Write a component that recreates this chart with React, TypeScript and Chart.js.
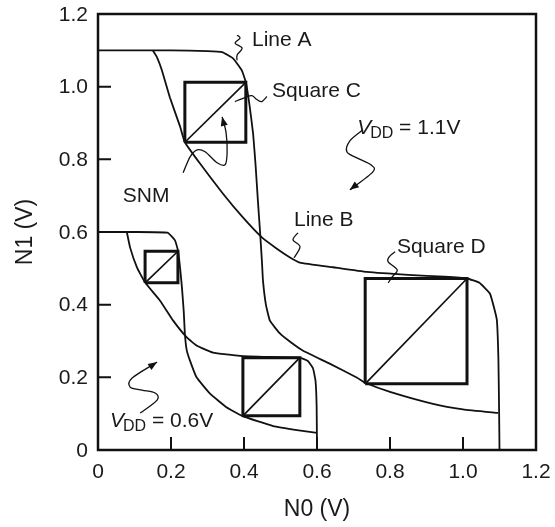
import { useEffect, useRef } from "react";
import { Chart, registerables } from "chart.js";

Chart.register(...registerables);

const FONT = '"Liberation Sans", Arial, Helvetica, sans-serif';
const INK = "#111111";

// Shared axis ticks (volts)
const axisTicks = [0, 0.2, 0.4, 0.6, 0.8, 1.0, 1.2];
const innerTicks = [0.2, 0.4, 0.6, 0.8, 1.0];

// VDD = 1.1 V butterfly — Line A (N1 vs N0)
const lineA11X = [0, 0.1, 0.2, 0.3, 0.34, 0.37, 0.394, 0.405, 0.415, 0.425, 0.432, 0.438, 0.444, 0.449, 0.452, 0.46, 0.471, 0.499, 0.53, 0.562, 0.636, 0.71, 0.732, 0.8, 0.918, 1.0, 1.096];
const lineA11Y = [1.1, 1.1, 1.1, 1.098, 1.095, 1.078, 1.045, 1.012, 0.95, 0.87, 0.78, 0.687, 0.6, 0.521, 0.466, 0.4, 0.356, 0.32, 0.295, 0.273, 0.237, 0.199, 0.185, 0.16, 0.127, 0.112, 0.102];

// VDD = 1.1 V butterfly — Line B (mirrored inverter)
const lineB11X = [0.15, 0.162, 0.175, 0.197, 0.225, 0.238, 0.279, 0.342, 0.397, 0.449, 0.49, 0.526, 0.553, 0.644, 0.737, 0.85, 0.95, 1.011, 1.045, 1.074, 1.088, 1.093, 1.097, 1.099, 1.1];
const lineB11Y = [1.1, 1.08, 1.045, 0.97, 0.89, 0.847, 0.789, 0.706, 0.64, 0.585, 0.554, 0.53, 0.516, 0.503, 0.49, 0.482, 0.477, 0.472, 0.46, 0.43, 0.38, 0.356, 0.25, 0.1, 0];

// VDD = 0.6 V butterfly — Line A
const lineA06X = [0, 0.1, 0.19, 0.211, 0.219, 0.225, 0.23, 0.235, 0.238, 0.243, 0.252, 0.27, 0.307, 0.353, 0.394, 0.48, 0.55, 0.6];
const lineA06Y = [0.6, 0.6, 0.598, 0.577, 0.549, 0.5, 0.447, 0.38, 0.32, 0.275, 0.246, 0.2, 0.155, 0.117, 0.094, 0.066, 0.054, 0.047];

// VDD = 0.6 V butterfly — Line B
const lineB06X = [0.079, 0.088, 0.107, 0.129, 0.17, 0.206, 0.244, 0.271, 0.315, 0.389, 0.47, 0.553, 0.575, 0.589, 0.596, 0.599, 0.6];
const lineB06Y = [0.6, 0.557, 0.502, 0.461, 0.411, 0.356, 0.309, 0.287, 0.268, 0.259, 0.256, 0.254, 0.245, 0.225, 0.19, 0.12, 0];

// Largest embedded squares [min, max]
const squareCX = [0.238, 0.405];
const squareCY = [0.847, 1.012];
const squareDX = [0.732, 1.011];
const squareDY = [0.182, 0.472];
const squareE06X = [0.129, 0.219];
const squareE06Y = [0.46, 0.547];
const squareF06X = [0.397, 0.553];
const squareF06Y = [0.094, 0.254];

const zip = (xs: number[], ys: number[]) => xs.map((x, i) => ({ x, y: ys[i] }));

const curve = (label: string, xs: number[], ys: number[]) => ({
  label,
  data: zip(xs, ys),
  showLine: true,
  borderColor: INK,
  borderWidth: 1.8,
  pointRadius: 0,
  tension: 0.12,
  fill: false,
});

const squareOutline = (label: string, xs: number[], ys: number[]) => ({
  label,
  data: [
    { x: xs[0], y: ys[0] },
    { x: xs[1], y: ys[0] },
    { x: xs[1], y: ys[1] },
    { x: xs[0], y: ys[1] },
    { x: xs[0], y: ys[0] },
  ],
  showLine: true,
  borderColor: INK,
  borderWidth: 3,
  borderJoinStyle: "miter" as const,
  pointRadius: 0,
  tension: 0,
  fill: false,
});

const squareDiagonal = (label: string, xs: number[], ys: number[]) => ({
  label,
  data: [
    { x: xs[0], y: ys[0] },
    { x: xs[1], y: ys[1] },
  ],
  showLine: true,
  borderColor: INK,
  borderWidth: 1.7,
  pointRadius: 0,
  tension: 0,
  fill: false,
});

// Text labels anchored in data space (left, baseline)
type Label = { text: string; x: number; y: number; sub?: string; rest?: string };
const textLabels: Label[] = [
  { text: "Line A", x: 0.422, y: 1.113 },
  { text: "Square C", x: 0.477, y: 0.972 },
  { text: "SNM", x: 0.068, y: 0.683 },
  { text: "Line B", x: 0.537, y: 0.617 },
  { text: "Square D", x: 0.819, y: 0.543 },
  { text: "V", sub: "DD", rest: " = 1.1V", x: 0.71, y: 0.87 },
  { text: "V", sub: "DD", rest: " = 0.6V", x: 0.033, y: 0.063 },
];

// Wavy leader lines: anchor in data space, shape as pixel offsets from the anchor
type Leader = { x: number; y: number; path: [number, number][]; arrow: boolean };
const leaders: Leader[] = [
  { x: 0.381, y: 1.073, arrow: false, path: [[0, -25], [3, -22], [-2, -17], [5, -12], [0, -5], [0, 0]] },
  { x: 0.375, y: 0.959, arrow: false, path: [[32, -5], [27, 0], [22, -2], [17, -6], [10, -4], [0, 0]] },
  { x: 0.69, y: 0.716, arrow: true, path: [[13, -60], [0, -49], [-3, -38], [7, -32], [21, -25], [23, -18], [0, 0]] },
  { x: 0.34, y: 0.917, arrow: true, path: [[-39, 56], [-32, 40], [-25, 33], [-17, 35], [-5, 46], [3, 48], [5, 36], [4, 16], [0, 0]] },
  { x: 0.537, y: 0.529, arrow: false, path: [[4, -25], [-1, -18], [6, -11], [0, 0]] },
  { x: 0.795, y: 0.46, arrow: false, path: [[7, -31], [1, -26], [0, -21], [9, -13], [4, -6], [0, 0]] },
  { x: 0.162, y: 0.242, arrow: true, path: [[-17, 51], [0, 38], [-2, 31], [-15, 28], [-27, 25], [-25, 16], [0, 0]] },
];

function smoothPath(ctx: CanvasRenderingContext2D, pts: { x: number; y: number }[]) {
  ctx.moveTo(pts[0].x, pts[0].y);
  for (let i = 0; i < pts.length - 1; i++) {
    const p0 = pts[i - 1] || pts[i];
    const p1 = pts[i];
    const p2 = pts[i + 1];
    const p3 = pts[i + 2] || p2;
    ctx.bezierCurveTo(
      p1.x + (p2.x - p0.x) / 6,
      p1.y + (p2.y - p0.y) / 6,
      p2.x - (p3.x - p1.x) / 6,
      p2.y - (p3.y - p1.y) / 6,
      p2.x,
      p2.y
    );
  }
}

const framePlugin = {
  id: "frameAndNotes",
  afterDatasetsDraw(chart: any) {
    const { ctx, chartArea, scales } = chart;
    const xs = scales.x;
    const ys = scales.y;
    ctx.save();

    // plot frame
    ctx.strokeStyle = INK;
    ctx.lineWidth = 2.5;
    ctx.strokeRect(chartArea.left, chartArea.top, chartArea.right - chartArea.left, chartArea.bottom - chartArea.top);

    // inward tick marks on left and bottom
    ctx.lineWidth = 2;
    const tl = 13;
    ctx.beginPath();
    innerTicks.forEach((v) => {
      const px = xs.getPixelForValue(v);
      ctx.moveTo(px, chartArea.bottom);
      ctx.lineTo(px, chartArea.bottom - tl);
      const py = ys.getPixelForValue(v);
      ctx.moveTo(chartArea.left, py);
      ctx.lineTo(chartArea.left + tl, py);
    });
    ctx.stroke();

    // leader lines and arrows
    ctx.lineWidth = 1.3;
    ctx.fillStyle = INK;
    leaders.forEach((ld) => {
      const ax = xs.getPixelForValue(ld.x);
      const ay = ys.getPixelForValue(ld.y);
      const pts = ld.path.map(([dx, dy]) => ({ x: ax + dx, y: ay + dy }));
      ctx.beginPath();
      smoothPath(ctx, pts);
      ctx.stroke();
      if (ld.arrow) {
        const a = pts[pts.length - 2];
        const b = pts[pts.length - 1];
        const ang = Math.atan2(b.y - a.y, b.x - a.x);
        const len = 9;
        const half = 3.6;
        ctx.beginPath();
        ctx.moveTo(b.x, b.y);
        ctx.lineTo(b.x - len * Math.cos(ang) + half * Math.sin(ang), b.y - len * Math.sin(ang) - half * Math.cos(ang));
        ctx.lineTo(b.x - len * Math.cos(ang) - half * Math.sin(ang), b.y - len * Math.sin(ang) + half * Math.cos(ang));
        ctx.closePath();
        ctx.fill();
      }
    });

    // text labels
    ctx.fillStyle = "#1a1a1a";
    ctx.textAlign = "left";
    ctx.textBaseline = "alphabetic";
    textLabels.forEach((lb) => {
      let x = xs.getPixelForValue(lb.x);
      const y = ys.getPixelForValue(lb.y);
      if (lb.sub) {
        ctx.font = `italic 21px ${FONT}`;
        ctx.fillText(lb.text, x, y);
        x += ctx.measureText(lb.text).width - 1;
        ctx.font = `16px ${FONT}`;
        ctx.fillText(lb.sub, x, y + 4);
        x += ctx.measureText(lb.sub).width;
        ctx.font = `21px ${FONT}`;
        ctx.fillText(lb.rest || "", x, y);
      } else {
        ctx.font = `21px ${FONT}`;
        ctx.fillText(lb.text, x, y);
      }
    });
    ctx.restore();
  },
};

const tickLabel = (v: number | string) => {
  const n = Number(v);
  return n === 0 ? "0" : n.toFixed(1);
};

export default function App() {
  const canvasRef = useRef<HTMLCanvasElement | null>(null);

  useEffect(() => {
    const canvas = canvasRef.current;
    if (!canvas) return;
    const datasets: any[] = [
      curve("Line A (1.1 V)", lineA11X, lineA11Y),
      curve("Line B (1.1 V)", lineB11X, lineB11Y),
      curve("Line A (0.6 V)", lineA06X, lineA06Y),
      curve("Line B (0.6 V)", lineB06X, lineB06Y),
      squareOutline("Square C", squareCX, squareCY),
      squareDiagonal("Square C diagonal", squareCX, squareCY),
      squareOutline("Square D", squareDX, squareDY),
      squareDiagonal("Square D diagonal", squareDX, squareDY),
      squareOutline("Square 0.6 V upper", squareE06X, squareE06Y),
      squareDiagonal("Square 0.6 V upper diagonal", squareE06X, squareE06Y),
      squareOutline("Square 0.6 V lower", squareF06X, squareF06Y),
      squareDiagonal("Square 0.6 V lower diagonal", squareF06X, squareF06Y),
    ];

    const tickFont = { family: FONT, size: 21 };
    const titleFont = { family: FONT, size: 23 };

    const chart = new Chart(canvas, {
      type: "scatter",
      data: { datasets },
      options: {
        animation: false,
        responsive: false,
        devicePixelRatio: 1,
        layout: { padding: { top: 14, right: 19, left: 0, bottom: 0 } },
        plugins: {
          legend: { display: false },
          tooltip: { enabled: false },
        },
        scales: {
          x: {
            type: "linear",
            min: 0,
            max: 1.2,
            afterBuildTicks: (s: any) => {
              s.ticks = axisTicks.map((value) => ({ value }));
            },
            afterFit: (s: any) => {
              s.height = 77;
              s.paddingLeft = 0;
              s.paddingRight = 0;
            },
            ticks: { font: tickFont, color: "#1a1a1a", padding: 10, maxRotation: 0, autoSkip: false, callback: tickLabel },
            grid: { display: false, drawTicks: false },
            border: { display: false },
            title: { display: true, text: "N0 (V)", font: titleFont, color: "#1a1a1a", padding: { top: 0, bottom: 4 } },
          },
          y: {
            type: "linear",
            min: 0,
            max: 1.2,
            afterBuildTicks: (s: any) => {
              s.ticks = axisTicks.map((value) => ({ value }));
            },
            afterFit: (s: any) => {
              s.width = 98;
              s.paddingTop = 0;
              s.paddingBottom = 0;
            },
            ticks: { font: tickFont, color: "#1a1a1a", padding: 10, labelOffset: 1, autoSkip: false, callback: tickLabel },
            grid: { display: false, drawTicks: false },
            border: { display: false },
            title: { display: true, text: "N1 (V)", font: titleFont, color: "#1a1a1a", padding: { top: 12, bottom: 0 } },
          },
        },
      } as any,
      plugins: [framePlugin],
    });
    return () => chart.destroy();
  }, []);

  return (
    <div style={{ position: "fixed", left: 0, top: 0, width: 555, height: 527, background: "#fff" }}>
      <canvas ref={canvasRef} width={555} height={527} style={{ display: "block", width: 555, height: 527 }} />
    </div>
  );
}
